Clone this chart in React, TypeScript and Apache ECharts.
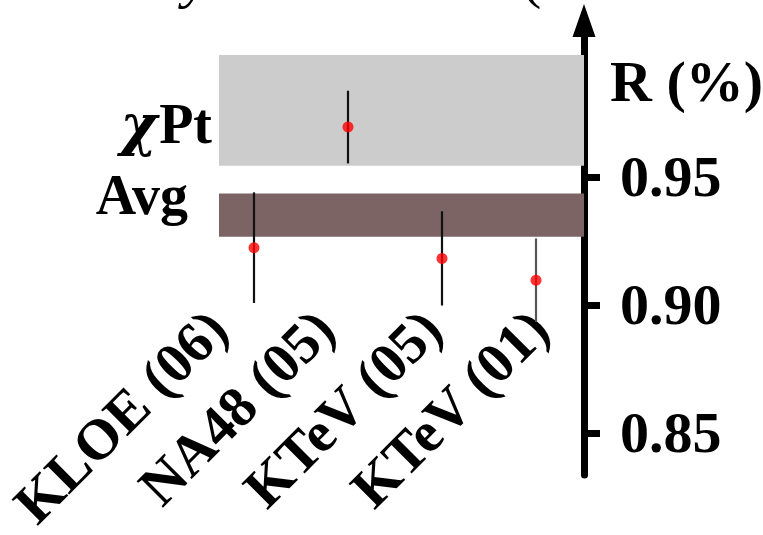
import React, { useEffect, useRef } from "react";
import * as echarts from "echarts";

// Measurements of R (%) per experiment
const experiments = ["KLOE (06)", "NA48 (05)", "KTeV (05)", "KTeV (01)"];
const positions = [1, 2, 3, 4];
const rValues = [0.9224, 0.9695, 0.9182, 0.9097];
const rErrors = [0.0216, 0.0142, 0.0184, 0.0163];
const errorColors = ["#111111", "#111111", "#111111", "#555555"];

// Horizontal bands: chiral perturbation theory and the average
const chiPtBand = [0.9544, 0.9977];
const avgBand = [0.9267, 0.9436];

const yTicks = [0.85, 0.9, 0.95];

const SERIF = "'Liberation Serif', 'Times New Roman', serif";

export default function App() {
  const ref = useRef<HTMLDivElement>(null);

  useEffect(() => {
    if (!ref.current) return;
    const chart = echarts.init(ref.current, null, { renderer: "svg" });

    const pointData = positions.map((p, i) => [p, rValues[i]]);
    const errorData = positions.map((p, i) => [p, rValues[i] - rErrors[i], rValues[i] + rErrors[i]]);

    chart.setOption({
      animation: false,
      grid: [
        { left: 219, right: 179, top: 20.5, bottom: 60 },
        { left: 163.5, right: 171, top: 290, height: 33 },
      ],
      xAxis: [
        { type: "value", gridIndex: 0, min: 0.6277, max: 4.5106, show: false },
        {
          type: "category",
          gridIndex: 1,
          data: experiments,
          position: "bottom",
          axisLine: { show: false },
          axisTick: { show: false },
          splitLine: { show: false },
          axisLabel: {
            interval: 0,
            rotate: 45,
            margin: 10,
            color: "#000",
            fontSize: 57,
            fontWeight: "bold",
            fontFamily: SERIF,
          },
        },
      ],
      yAxis: [
        {
          type: "value",
          gridIndex: 0,
          position: "right",
          min: 0.83359,
          max: 1.01113,
          splitLine: { show: false },
          axisLine: {
            show: true,
            symbol: ["none", "triangle"],
            symbolSize: [23, 33],
            lineStyle: { color: "#000", width: 7 },
          },
          axisTick: {
            show: true,
            customValues: yTicks,
            length: 16,
            inside: false,
            lineStyle: { color: "#000", width: 7 },
          },
          axisLabel: {
            customValues: yTicks,
            formatter: (v: number) => v.toFixed(2),
            margin: 36,
            color: "#000",
            fontSize: 58,
            fontWeight: "bold",
            fontFamily: SERIF,
          },
        },
        { type: "value", gridIndex: 1, show: false },
      ],
      graphic: [
        {
          type: "text",
          left: 610,
          top: 52,
          style: { text: "R (%)", fill: "#000", font: `bold 58px ${SERIF}` },
        },
        {
          type: "text",
          x: 212,
          y: 123.5,
          style: {
            text: "{chi|χ}Pt",
            fill: "#000",
            font: `bold 56px ${SERIF}`,
            align: "right",
            verticalAlign: "middle",
            rich: {
              chi: { font: `italic bold 56px 'DejaVu Serif', serif`, fill: "#000", padding: [0, 2, 0, 0] },
            },
          },
        },
        {
          type: "text",
          x: 188,
          y: 195,
          style: {
            text: "Avg",
            fill: "#000",
            font: `bold 56px ${SERIF}`,
            align: "right",
            verticalAlign: "middle",
          },
        },
        {
          type: "text",
          x: 183,
          y: -22.6,
          style: {
            text: "y",
            fill: "#000",
            font: `italic 58px ${SERIF}`,
            align: "left",
            verticalAlign: "middle",
          },
        },
        {
          type: "text",
          x: 522,
          y: -22.6,
          style: {
            text: "(",
            fill: "#000",
            font: `58px ${SERIF}`,
            align: "left",
            verticalAlign: "middle",
          },
        },
      ],
      series: [
        {
          type: "line",
          xAxisIndex: 0,
          yAxisIndex: 0,
          data: [],
          z: 1,
          silent: true,
          markArea: {
            silent: true,
            label: { show: false },
            data: [
              [
                { yAxis: chiPtBand[0], itemStyle: { color: "#cccccc", opacity: 1 } },
                { yAxis: chiPtBand[1] },
              ],
              [
                { yAxis: avgBand[0], itemStyle: { color: "#7c6464", opacity: 1 } },
                { yAxis: avgBand[1] },
              ],
            ],
          },
        },
        {
          type: "custom",
          xAxisIndex: 0,
          yAxisIndex: 0,
          z: 3,
          silent: true,
          data: errorData,
          encode: { x: 0, y: [1, 2] },
          renderItem: (params: any, api: any) => {
            const x = api.value(0);
            const lo = api.coord([x, api.value(1)]);
            const hi = api.coord([x, api.value(2)]);
            return {
              type: "line",
              shape: { x1: lo[0], y1: lo[1], x2: hi[0], y2: hi[1] },
              style: { stroke: errorColors[params.dataIndex], lineWidth: 2.2 },
            };
          },
        },
        {
          type: "scatter",
          xAxisIndex: 0,
          yAxisIndex: 0,
          z: 4,
          silent: true,
          symbol: "circle",
          symbolSize: 11,
          itemStyle: { color: "#ff0000" },
          data: pointData,
        },
      ],
    });

    return () => chart.dispose();
  }, []);

  return (
    <div
      ref={ref}
      style={{ position: "absolute", left: 0, top: 0, width: 763, height: 535 }}
    />
  );
}
